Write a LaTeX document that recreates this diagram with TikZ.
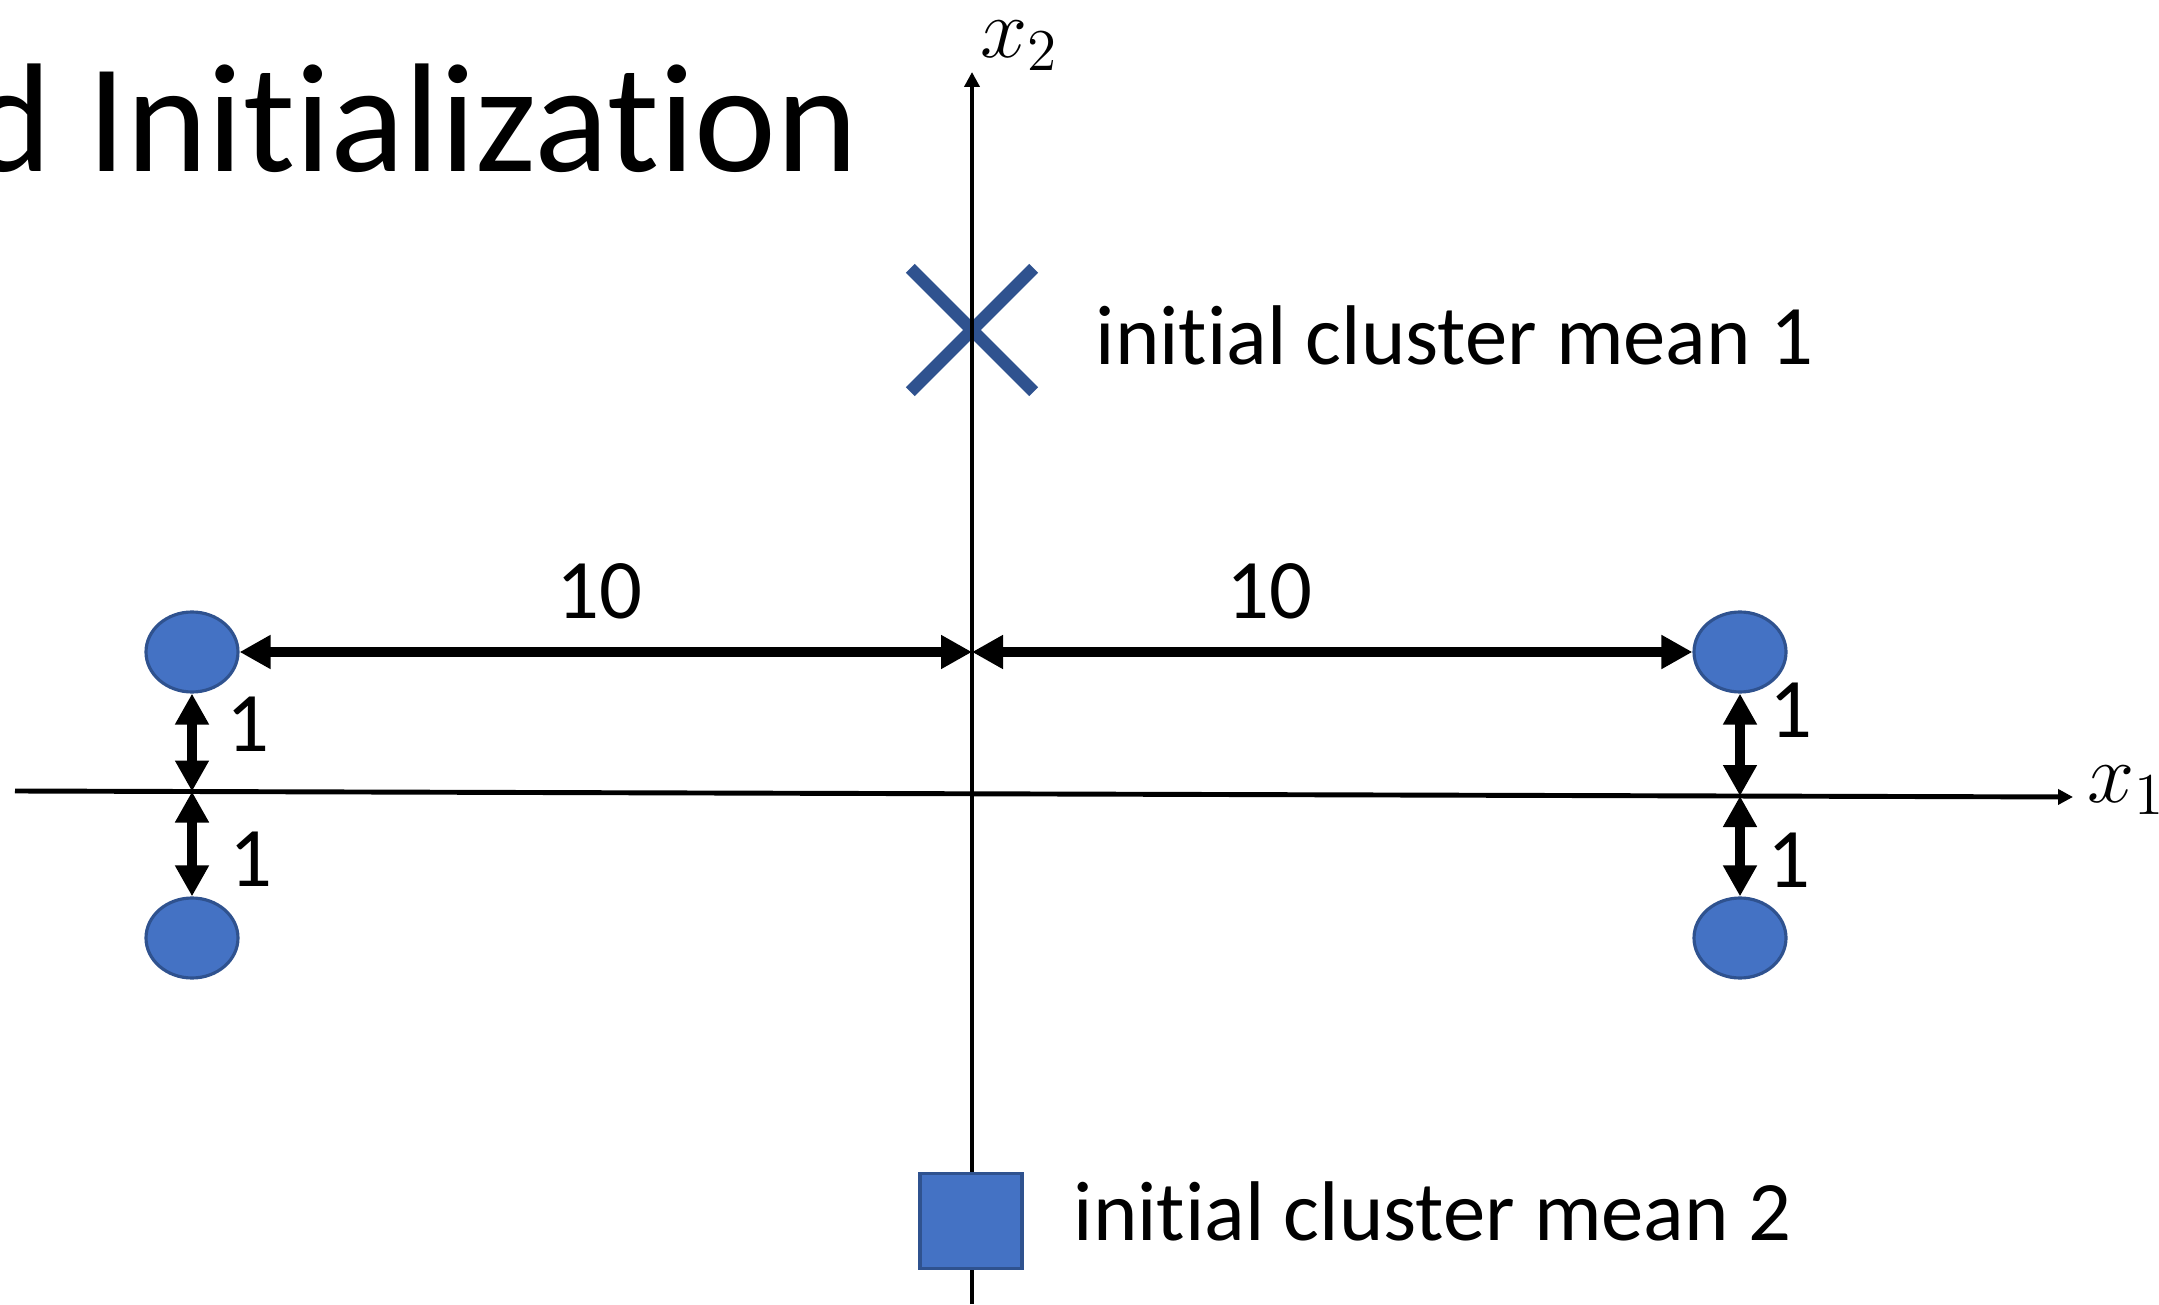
\RequirePackage{fix-cm}
\documentclass[tikz,border=0pt]{standalone}
\usepackage{fontspec}
\setmainfont{Carlito}[Ligatures=NoCommon]
\usetikzlibrary{arrows.meta, shapes.geometric, positioning}
\definecolor{ppblue}{RGB}{68,114,196}
\definecolor{ppdark}{RGB}{47,82,143}

\begin{document}
\begin{tikzpicture}[
    every node/.style={font=\fontsize{24.1}{29}\selectfont, inner sep=0pt},
    datapt/.style={ellipse, draw=ppdark, fill=ppblue, line width=0.9pt, minimum width=0.92cm, minimum height=0.80cm},
    meanx/.style={rectangle, minimum size=1.22cm},
    meanline/.style={draw=ppdark, line width=1.25mm},
    meansq/.style={rectangle, draw=ppdark, fill=ppblue, line width=0.9pt, minimum width=1.02cm, minimum height=0.95cm},
    axisline/.style={-{Triangle[length=1.5mm, width=1.5mm]}, line width=1.4pt},
    dimarr/.style={{Triangle[length=3.1mm, width=3.2mm]}-{Triangle[length=3.1mm, width=3.2mm]}, line width=1mm}
]
\clip (0,0) rectangle (21.59,13.04);
\useasboundingbox (0,0) rectangle (21.59,13.04);

% title, cut at the left edge
\node[font=\fontsize{44.1}{53}\selectfont, anchor=base east] (title) at (8.59,11.32) {d Initialization};

% initial means
\node[meanx] (m1) at (9.72,9.74) {};
\draw[meanline] (m1.north west) -- (m1.south east);
\draw[meanline] (m1.south west) -- (m1.north east);
\node[anchor=base west] (m1lab) at (10.95,9.39) {initial cluster mean 1};

% axes
\coordinate (x2s) at (9.72,0);
\coordinate (x2e) at (9.72,12.32);
\coordinate (x1s) at (0.15,5.13);
\coordinate (x1e) at (20.73,5.07);
\draw[axisline] (x2s) -- (x2e);
\draw[axisline] (x1s) -- (x1e);
\node[anchor=base west] (x1lab) at (20.87,5.02) {$x_1$};
\node[anchor=base west] (x2lab) at (9.80,12.46) {$x_2$};

\node[meansq] (m2) at (9.71,0.83) {};
\node[anchor=base west] (m2lab) at (10.73,0.64) {initial cluster mean 2};

% data points
\node[datapt] (tl) at (1.92,6.52) {};
\node[datapt] (bl) at (1.92,3.66) {};
\node[datapt] (tr) at (17.40,6.52) {};
\node[datapt] (br) at (17.40,3.66) {};

% distances
\coordinate (c0) at (9.72,6.52);
\coordinate (aL) at (1.92,5.125);
\coordinate (aR) at (17.40,5.08);
\draw[dimarr] (tl) -- (c0);
\draw[dimarr] (c0) -- (tr);
\draw[dimarr] (tl) -- (aL);
\draw[dimarr] (aL) -- (bl);
\draw[dimarr] (tr) -- (aR);
\draw[dimarr] (aR) -- (br);

\node[anchor=base] (d10l) at (5.99,6.85) {10};
\node[anchor=base] (d10r) at (12.69,6.85) {10};
\node[anchor=base] (d1a) at (2.48,5.53) {1};
\node[anchor=base] (d1b) at (2.51,4.18) {1};
\node[anchor=base] (d1c) at (17.91,5.67) {1};
\node[anchor=base] (d1d) at (17.89,4.17) {1};

\end{tikzpicture}
\end{document}
